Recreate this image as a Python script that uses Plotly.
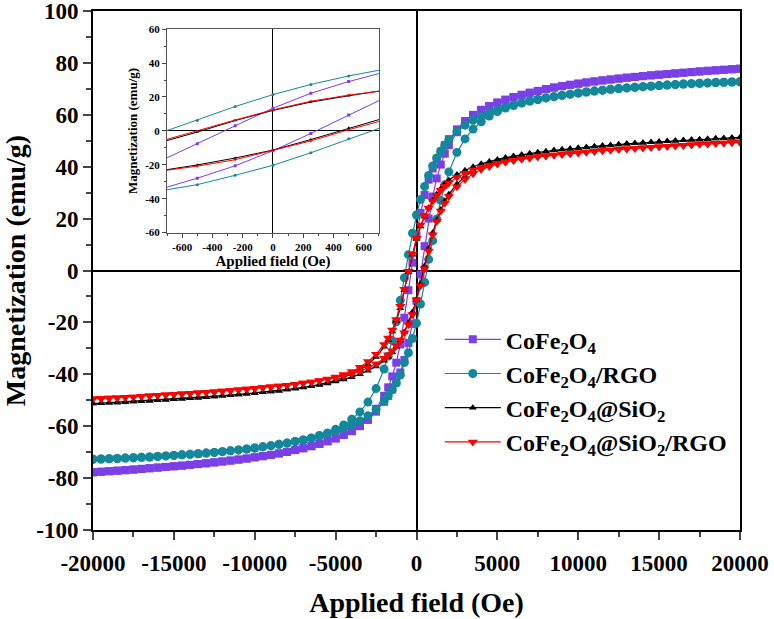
import plotly.graph_objects as go

# applied field (Oe), one list shared by both branches, high field -> low field
field = [20000, 19500, 19000, 18500, 18000, 17500, 17000, 16500, 16000, 15500,
         15000, 14500, 14000, 13500, 13000, 12500, 12000, 11500, 11000, 10500,
         10000, 9500, 9000, 8500, 8000, 7500, 7000, 6500, 6000, 5500,
         5000, 4500, 4000, 3500, 3000, 2500, 2000, 1750, 1500, 1250,
         1000, 750, 500, 250, 0, -250, -500, -750, -1000, -1250,
         -1500, -1750, -2000, -2500, -3000, -3500, -4000, -4500, -5000, -5500,
         -6000, -6500, -7000, -7500, -8000, -8500, -9000, -9500, -10000, -10500,
         -11000, -11500, -12000, -12500, -13000, -13500, -14000, -14500, -15000, -15500,
         -16000, -16500, -17000, -17500, -18000, -18500, -19000, -19500, -20000]

# magnetization (emu/g): *_down = descending-field branch, *_up = ascending-field branch
cfo_down = [77.75, 77.55, 77.35, 77.15, 76.95, 76.7, 76.45, 76.2, 75.95, 75.7,
            75.45, 75.2, 74.9, 74.6, 74.3, 73.95, 73.6, 73.25, 72.85, 72.45,
            72.0, 71.55, 71.05, 70.5, 69.9, 69.2, 68.5, 67.7, 66.8, 65.8,
            64.7, 63.4, 61.9, 60.0, 57.6, 54.4, 50.6, 48.3, 45.8, 42.8,
            39.3, 35.0, 29.1, 22.2, 13.4, 3.0, -7.6, -18.2, -28.5, -35.5,
            -40.8, -45.0, -48.3, -53.3, -57.2, -59.9, -61.9, -63.4, -64.7, -65.8,
            -66.8, -67.7, -68.5, -69.2, -69.9, -70.5, -71.05, -71.55, -72.0, -72.45,
            -72.85, -73.25, -73.6, -73.95, -74.3, -74.6, -74.9, -75.2, -75.45, -75.7,
            -75.95, -76.2, -76.45, -76.7, -76.95, -77.15, -77.35, -77.55, -77.75]
cfo_up = [77.75, 77.55, 77.35, 77.15, 76.95, 76.7, 76.45, 76.2, 75.95, 75.7,
          75.45, 75.2, 74.9, 74.6, 74.3, 73.95, 73.6, 73.25, 72.85, 72.45,
          72.0, 71.55, 71.05, 70.5, 69.9, 69.2, 68.5, 67.7, 66.8, 65.8,
          64.7, 63.4, 61.9, 59.9, 57.2, 53.3, 48.3, 45.0, 40.8, 35.5,
          28.5, 20.0, 9.4, -1.5, -11.7, -20.6, -27.9, -34.5, -39.3, -42.8,
          -45.8, -48.3, -50.6, -54.4, -57.6, -60.0, -61.9, -63.4, -64.7, -65.8,
          -66.8, -67.7, -68.5, -69.2, -69.9, -70.5, -71.05, -71.55, -72.0, -72.45,
          -72.85, -73.25, -73.6, -73.95, -74.3, -74.6, -74.9, -75.2, -75.45, -75.7,
          -75.95, -76.2, -76.45, -76.7, -76.95, -77.15, -77.35, -77.55, -77.75]

rgo_down = [72.75, 72.65, 72.55, 72.45, 72.3, 72.15, 72.0, 71.85, 71.65, 71.45,
            71.25, 71.05, 70.85, 70.6, 70.35, 70.1, 69.8, 69.5, 69.15, 68.8,
            68.4, 67.95, 67.5, 67.0, 66.5, 65.9, 65.3, 64.6, 63.8, 62.9,
            61.9, 60.8, 59.5, 57.9, 56.0, 53.5, 50.3, 48.3, 46.0, 43.4,
            40.3, 36.6, 32.4, 27.4, 21.4, 14.4, 6.1, -2.8, -11.5, -19.8,
            -27.0, -33.0, -38.0, -45.5, -50.7, -54.5, -57.3, -59.5, -61.2, -62.6,
            -63.6, -64.5, -65.3, -65.9, -66.5, -67.0, -67.5, -67.95, -68.4, -68.8,
            -69.15, -69.5, -69.8, -70.1, -70.35, -70.6, -70.85, -71.05, -71.25, -71.45,
            -71.65, -71.85, -72.0, -72.15, -72.3, -72.45, -72.55, -72.65, -72.75]
rgo_up = [72.75, 72.65, 72.55, 72.45, 72.3, 72.15, 72.0, 71.85, 71.65, 71.45,
          71.25, 71.05, 70.85, 70.6, 70.35, 70.1, 69.8, 69.5, 69.15, 68.8,
          68.4, 67.95, 67.5, 67.0, 66.5, 65.9, 65.3, 64.5, 63.6, 62.6,
          61.2, 59.5, 57.3, 54.5, 50.7, 45.5, 38.0, 33.0, 27.0, 19.8,
          11.5, 4.3, -4.6, -12.9, -20.3, -26.2, -31.7, -35.5, -40.3, -43.4,
          -46.0, -48.3, -50.3, -53.5, -56.0, -57.9, -59.5, -60.8, -61.9, -62.9,
          -63.8, -64.6, -65.3, -65.9, -66.5, -67.0, -67.5, -67.95, -68.4, -68.8,
          -69.15, -69.5, -69.8, -70.1, -70.35, -70.6, -70.85, -71.05, -71.25, -71.45,
          -71.65, -71.85, -72.0, -72.15, -72.3, -72.45, -72.55, -72.65, -72.75]

sio2_down = [51.3, 51.15, 51.0, 50.85, 50.7, 50.5, 50.35, 50.2, 50.0, 49.8,
             49.6, 49.4, 49.2, 49.0, 48.8, 48.55, 48.3, 48.05, 47.8, 47.5,
             47.2, 46.9, 46.6, 46.3, 45.9, 45.5, 45.1, 44.6, 44.1, 43.5,
             42.8, 42.0, 41.1, 40.0, 38.6, 37.0, 34.8, 33.3, 31.5, 29.4,
             27.0, 24.2, 20.7, 17.0, 12.1, 6.1, -0.7, -7.6, -14.5, -19.5,
             -23.5, -26.8, -29.4, -33.3, -36.2, -38.4, -40.0, -41.3, -42.3, -43.2,
             -43.9, -44.5, -45.0, -45.5, -45.9, -46.3, -46.6, -46.9, -47.2, -47.5,
             -47.8, -48.05, -48.3, -48.55, -48.8, -49.0, -49.2, -49.4, -49.6, -49.8,
             -50.0, -50.2, -50.35, -50.5, -50.7, -50.85, -51.0, -51.15, -51.3]
sio2_up = [51.3, 51.15, 51.0, 50.85, 50.7, 50.5, 50.35, 50.2, 50.0, 49.8,
           49.6, 49.4, 49.2, 49.0, 48.8, 48.55, 48.3, 48.05, 47.8, 47.5,
           47.2, 46.9, 46.6, 46.3, 45.9, 45.5, 45.0, 44.5, 43.9, 43.2,
           42.3, 41.3, 40.0, 38.4, 36.2, 33.3, 29.4, 26.8, 23.5, 19.5,
           14.5, 8.5, 1.8, -5.1, -11.3, -16.0, -20.1, -23.7, -27.0, -29.4,
           -31.5, -33.3, -34.8, -37.0, -38.6, -40.0, -41.1, -42.0, -42.8, -43.5,
           -44.1, -44.6, -45.1, -45.5, -45.9, -46.3, -46.6, -46.9, -47.2, -47.5,
           -47.8, -48.05, -48.3, -48.55, -48.8, -49.0, -49.2, -49.4, -49.6, -49.8,
           -50.0, -50.2, -50.35, -50.5, -50.7, -50.85, -51.0, -51.15, -51.3]

sio2_rgo_down = [49.45, 49.3, 49.15, 49.0, 48.85, 48.7, 48.5, 48.3, 48.1, 47.9,
                 47.7, 47.5, 47.3, 47.1, 46.9, 46.7, 46.45, 46.2, 45.95, 45.7,
                 45.4, 45.1, 44.8, 44.5, 44.2, 43.8, 43.4, 43.0, 42.5, 41.9,
                 41.3, 40.6, 39.8, 38.8, 37.5, 35.9, 33.8, 32.5, 30.9, 29.0,
                 26.8, 24.1, 21.1, 17.5, 12.4, 6.4, -0.3, -7.2, -13.8, -18.9,
                 -22.9, -26.0, -28.5, -32.3, -35.1, -37.3, -38.9, -40.1, -41.0, -41.8,
                 -42.4, -42.95, -43.4, -43.8, -44.2, -44.5, -44.8, -45.1, -45.4, -45.7,
                 -45.95, -46.2, -46.45, -46.7, -46.9, -47.1, -47.3, -47.5, -47.7, -47.9,
                 -48.1, -48.3, -48.5, -48.7, -48.85, -49.0, -49.15, -49.3, -49.45]
sio2_rgo_up = [49.45, 49.3, 49.15, 49.0, 48.85, 48.7, 48.5, 48.3, 48.1, 47.9,
               47.7, 47.5, 47.3, 47.1, 46.9, 46.7, 46.45, 46.2, 45.95, 45.7,
               45.4, 45.1, 44.8, 44.5, 44.2, 43.8, 43.4, 42.95, 42.4, 41.8,
               41.0, 40.1, 38.9, 37.3, 35.1, 32.3, 28.5, 26.0, 22.9, 18.9,
               13.8, 7.5, 0.7, -5.9, -11.4, -17.0, -20.8, -24.0, -26.8, -29.0,
               -30.9, -32.5, -33.8, -35.9, -37.5, -38.8, -39.8, -40.6, -41.3, -41.9,
               -42.5, -43.0, -43.4, -43.8, -44.2, -44.5, -44.8, -45.1, -45.4, -45.7,
               -45.95, -46.2, -46.45, -46.7, -46.9, -47.1, -47.3, -47.5, -47.7, -47.9,
               -48.1, -48.3, -48.5, -48.7, -48.85, -49.0, -49.15, -49.3, -49.45]

# tick labels (plain hyphen minus, as in the original figure)
x_ticks = [-20000, -15000, -10000, -5000, 0, 5000, 10000, 15000, 20000]
x_tick_labels = ["-20000", "-15000", "-10000", "-5000", "0", "5000", "10000", "15000", "20000"]
y_ticks = [-100, -80, -60, -40, -20, 0, 20, 40, 60, 80, 100]
y_tick_labels = ["-100", "-80", "-60", "-40", "-20", "0", "20", "40", "60", "80", "100"]
inset_x_ticks = [-600, -400, -200, 0, 200, 400, 600]
inset_x_labels = ["-600", "-400", "-200", "0", "200", "400", "600"]
inset_y_ticks = [-60, -40, -20, 0, 20, 40, 60]
inset_y_labels = ["-60", "-40", "-20", "0", "20", "40", "60"]

series = [
    ("CoFe<sub>2</sub>O<sub>4</sub>", cfo_down, cfo_up, "#7B3FE6", "square", 8),
    ("CoFe<sub>2</sub>O<sub>4</sub>/RGO", rgo_down, rgo_up, "#12889A", "circle", 9),
    ("CoFe<sub>2</sub>O<sub>4</sub>@SiO<sub>2</sub>", sio2_down, sio2_up, "black", "triangle-up", 7),
    ("CoFe<sub>2</sub>O<sub>4</sub>@SiO<sub>2</sub>/RGO", sio2_rgo_down, sio2_rgo_up, "#FF0000", "triangle-down", 9),
]

fig = go.Figure()
for name, down, up, color, symbol, size in series:
    # full loop: down branch then back up
    x = field + field[::-1]
    y = down + up[::-1]
    fig.add_trace(go.Scatter(x=x, y=y, mode="lines+markers", name=name,
                             line=dict(color=color, width=1.2),
                             marker=dict(symbol=symbol, size=size, color=color),
                             xaxis="x", yaxis="y"))
    fig.add_trace(go.Scatter(x=x, y=y, mode="lines+markers", showlegend=False,
                             line=dict(color=color, width=1),
                             marker=dict(symbol=symbol, size=3, color=color),
                             xaxis="x2", yaxis="y2"))

bold = dict(family="Liberation Serif", color="black", weight="bold")

main_axis = dict(ticks="outside", ticklen=8, tickwidth=2, showline=True, linewidth=2,
                 linecolor="black", mirror=True, zeroline=True, zerolinecolor="black",
                 zerolinewidth=2, showgrid=False, automargin=False, tickmode="array",
                 ticklabeloverflow="allow", tickfont=dict(bold, size=23))
inset_axis = dict(ticks="outside", ticklen=4, tickwidth=1, showline=True, linewidth=1,
                  linecolor="#555555", mirror=True, zeroline=True, zerolinecolor="black",
                  zerolinewidth=1, showgrid=False, automargin=False, tickmode="array",
                  tickfont=dict(bold, size=11))

fig.update_layout(
    width=774, height=619,
    margin=dict(l=93, r=34, t=11, b=89),
    paper_bgcolor="white", plot_bgcolor="white",
    font=dict(family="Liberation Serif", color="black"),
    xaxis=dict(main_axis, domain=[0, 1], range=[-20000, 20000],
               tickvals=x_ticks, ticktext=x_tick_labels, ticklabelstandoff=3,
               minor=dict(dtick=2500, tick0=0, ticks="outside", ticklen=5, tickwidth=2),
               title=dict(text="Applied field (Oe)", font=dict(bold, size=28), standoff=18)),
    yaxis=dict(main_axis, domain=[0, 1], range=[-100, 100],
               tickvals=y_ticks, ticktext=y_tick_labels,
               minor=dict(dtick=10, tick0=0, ticks="outside", ticklen=5, tickwidth=2),
               title=dict(text="Magnetization (emu/g)", font=dict(bold, size=28), standoff=10)),
    xaxis2=dict(inset_axis, domain=[0.1144, 0.442], anchor="y2", range=[-700, 700],
                tickvals=inset_x_ticks, ticktext=inset_x_labels,
                minor=dict(dtick=100, tick0=0, ticks="outside", ticklen=2),
                title=dict(text="Applied field (Oe)", font=dict(bold, size=15), standoff=2)),
    yaxis2=dict(inset_axis, domain=[0.573, 0.965], anchor="x2", range=[-60, 60],
                tickvals=inset_y_ticks, ticktext=inset_y_labels,
                minor=dict(dtick=10, tick0=0, ticks="outside", ticklen=2),
                title=dict(text="Magnetization (emu/g)", font=dict(bold, size=13), standoff=4)),
    legend=dict(x=0.536, y=0.41, xanchor="left", yanchor="top", bgcolor="rgba(0,0,0,0)",
                font=dict(bold, size=24), itemwidth=56),
)

# the page's default 8px body margin would shift the whole figure
fig.write_html("out.html", config={"displayModeBar": False},
               post_script="document.body.style.margin = '0';")
